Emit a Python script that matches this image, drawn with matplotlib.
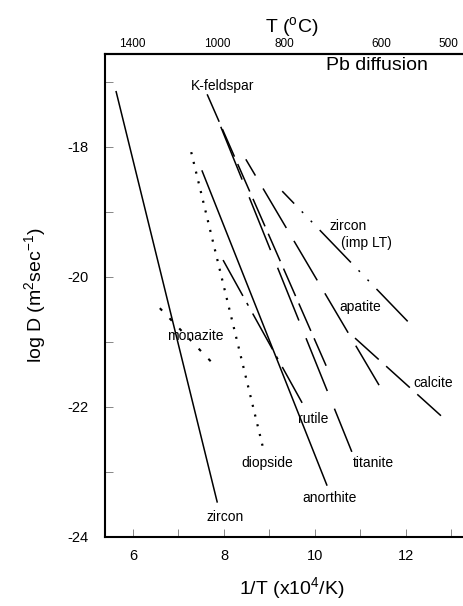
import numpy as np
import matplotlib.pyplot as plt

plt.rcParams['font.family'] = ['Liberation Sans', 'DejaVu Sans']
plt.rcParams['lines.scale_dashes'] = False
plt.rcParams['axes.unicode_minus'] = False

# Pb diffusion Arrhenius lines: ends in 1/T (x10^4/K) and log D (m2/s)
minerals = ['zircon', 'zircon (imp LT)', 'monazite', 'diopside', 'anorthite',
            'rutile', 'titanite', 'K-feldspar', 'apatite', 'calcite']
x_hot = [5.63, 9.28, 6.59, 7.28, 7.52, 7.98, 7.93, 7.63, 8.48, 10.88]
x_cold = [7.85, 12.13, 7.85, 8.88, 10.26, 9.76, 10.81, 10.26, 11.43, 12.92]
logd_hot = [-17.15, -18.68, -20.48, -18.08, -18.37, -19.74, -17.69, -17.19, -18.19, -20.94]
logd_cold = [-23.46, -20.75, -21.40, -22.69, -23.20, -21.99, -22.69, -21.39, -21.69, -22.23]

# dash patterns in points (None = solid)
dashes = [None,
          (20, (32.4, 7.9, 1.4, 7.9, 1.4, 7.9)),
          (0, (2.4, 7.7)),
          (0, (1.5, 5.7)),
          None,
          (0, (29.5, 5.8, 2.2, 6.5)),
          (0, (41, 13.7)),
          (0, (21.6, 5.8)),
          (19.4, (33, 10.8)),
          (0, (23, 7.2))]
widths = [1.1, 1.1, 1.5, 1.6, 1.1, 1.1, 1.1, 1.1, 1.1, 1.1]

# curve labels
lab_text = ['zircon', 'zircon', '(imp LT)', 'monazite', 'diopside', 'anorthite',
            'rutile', 'titanite', 'K-feldspar', 'apatite', 'calcite']
lab_x = [8.02, 10.73, 11.14, 7.36, 8.95, 10.33, 9.96, 11.28, 7.98, 10.99, 12.59]
lab_y = [-23.69, -19.22, -19.48, -20.91, -22.86, -23.40, -22.18, -22.86, -17.06, -20.46, -21.63]

celsius_ticks = [1400, 1000, 800, 600, 500]

fig = plt.figure(figsize=(4.64, 6.06), dpi=100)
ax = fig.add_axes([105/464, 69/606, 374/464, 483/606])

for i in range(len(minerals)):
    ls = '-' if dashes[i] is None else dashes[i]
    ax.plot([x_hot[i], x_cold[i]], [logd_hot[i], logd_cold[i]],
            color='black', lw=widths[i], linestyle=ls)

for t, x, y in zip(lab_text, lab_x, lab_y):
    ax.text(x, y, t, fontsize=10, ha='center', va='center')

ax.text(11.36, -16.74, 'Pb diffusion', fontsize=14, ha='center', va='center')

ax.set_xlim(5.385, 13.605)
ax.set_ylim(-24, -16.57)
ax.set_xticks([6, 8, 10, 12])
ax.set_xticks([7, 9, 11, 13], minor=True)
ax.set_yticks([-24, -22, -20, -18])
ax.set_yticks([-23, -21, -19, -17], minor=True)
ax.tick_params(which='both', direction='in', length=6, width=0.6, color='0.45')
ax.tick_params(axis='x', labelsize=10.5, pad=9)
ax.tick_params(axis='y', labelsize=10.5, pad=12)
ax.tick_params(top=False, right=False)
for s in ['left', 'bottom', 'top']:
    ax.spines[s].set_linewidth(1.5)
ax.spines['right'].set_visible(False)

ax.set_xlabel(r'1/T (x10$\mathregular{^4}$/K)', fontsize=14, labelpad=8)
ax.set_ylabel(r'log D (m$\mathregular{^2}$sec$\mathregular{^{-1}}$)', fontsize=14, labelpad=14)


def k_to_c(x):
    x = np.asarray(x, dtype=float)
    with np.errstate(divide='ignore'):
        return 1e4 / x - 273.15


def c_to_k(t):
    t = np.asarray(t, dtype=float)
    with np.errstate(divide='ignore'):
        return 1e4 / (t + 273.15)


sec = ax.secondary_xaxis('top', functions=(k_to_c, c_to_k))
sec.set_xticks(celsius_ticks)
sec.set_xticklabels([str(c) for c in celsius_ticks])
sec.tick_params(length=0, pad=3, labelsize=8.5)
sec.spines['top'].set_linewidth(1.5)
sec.set_xlabel(r'T ($\mathregular{^o}$C)', fontsize=14, labelpad=4)

fig.savefig('out.png', dpi=100)
